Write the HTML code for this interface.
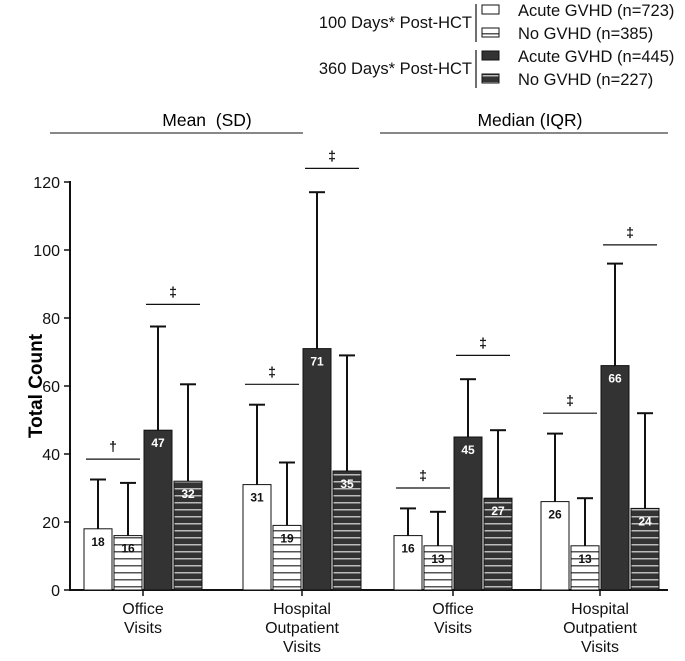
<!DOCTYPE html>
<html><head><meta charset="utf-8"><style>
body{margin:0;background:#fff;}
svg{display:block;font-family:"Liberation Sans",Arial,sans-serif;}
</style></head><body>
<svg id="c" width="685" height="661" viewBox="0 0 685 661">
<defs>
<pattern id="hw" width="8" height="7" patternUnits="userSpaceOnUse"><rect width="8" height="7" fill="#fff"/><rect y="5" width="8" height="1.5" fill="#555"/></pattern>
<pattern id="hd" width="8" height="7" patternUnits="userSpaceOnUse"><rect width="8" height="7" fill="#333"/><rect y="5" width="8" height="1.5" fill="#bbb"/></pattern>
</defs>
<g font-size="16.5" fill="#111">
<text x="472" y="28" text-anchor="end">100 Days* Post-HCT</text>
<text x="472" y="74" text-anchor="end">360 Days* Post-HCT</text>
<line x1="476" y1="4" x2="476" y2="42" stroke="#111" stroke-width="1.2"/>
<line x1="476" y1="50" x2="476" y2="88" stroke="#111" stroke-width="1.2"/>
<rect x="482" y="5" width="17" height="9" fill="#fff" stroke="#111"/>
<rect x="482" y="28" width="17" height="9" fill="url(#hw)" stroke="#111"/>
<rect x="482" y="51" width="17" height="9" fill="#333" stroke="#111"/>
<rect x="482" y="74" width="17" height="9" fill="url(#hd)" stroke="#111"/>
<text x="518" y="16">Acute GVHD (n=723)</text>
<text x="518" y="39">No GVHD (n=385)</text>
<text x="518" y="62">Acute GVHD (n=445)</text>
<text x="518" y="85">No GVHD (n=227)</text>
</g>
<text x="207" y="126" text-anchor="middle" font-size="17.5" style="white-space:pre">Mean  (SD)</text>
<line x1="50" y1="133" x2="303" y2="133" stroke="#111"/>
<text x="530" y="126" text-anchor="middle" font-size="17.5">Median (IQR)</text>
<line x1="380" y1="133" x2="668" y2="133" stroke="#111"/>
<text transform="translate(42,386) rotate(-90)" text-anchor="middle" font-size="19" font-weight="bold">Total Count</text>
<g id="plot"></g>
</svg>
<script>
const categories=["Office\nVisits","Hospital\nOutpatient\nVisits","Office\nVisits","Hospital\nOutpatient\nVisits"];
const barValues=[[18,16,47,32],[31,19,71,35],[16,13,45,27],[26,13,66,24]];
const errTops=[[32.5,31.5,77.5,60.5],[54.5,37.5,117,69],[24,23,62,47],[46,27,96,52]];
const labels=[["18","16","47","32"],["31","19","71","35"],["16","13","45","27"],["26","13","66","24"]];
const sigLeft=["†","‡","‡","‡"];
const sigLeftY=[38.5,60.5,30,52];
const sigRight=["‡","‡","‡","‡"];
const sigRightY=[84,124,69,101.5];
const yTicks=[0,20,40,60,80,100,120];
const NS="http://www.w3.org/2000/svg";
const g=document.getElementById('plot');
const y=v=>590-v*3.4;
const groupX=[84,243,394,541];
const bx=(gi,bi)=>groupX[gi]+bi*30;
const bw=28;
const fills=["#fff","url(#hw)","#333","url(#hd)"];
function el(t,a){const e=document.createElementNS(NS,t);for(const k in a)e.setAttribute(k,a[k]);g.appendChild(e);return e;}
let e=el('line',{x1:70,y1:y(120)-1,x2:70,y2:590,stroke:'#111','stroke-width':2});


e=el('line',{x1:69,y1:590,x2:668,y2:590,stroke:'#111','stroke-width':2});


yTicks.forEach(t=>{
 el('line',{x1:64,y1:y(t),x2:70,y2:y(t),stroke:'#111','stroke-width':1.5});
 const tx=el('text',{x:60,y:y(t)+6,'text-anchor':'end','font-size':16,fill:'#111'});tx.textContent=t;
 
 
});
categories.forEach((c,gi)=>{
 const cx=bx(gi,2)-1;
 el('line',{x1:cx,y1:590,x2:cx,y2:596,stroke:'#111','stroke-width':1.5});
 c.split('\n').forEach((ln,li)=>{const t=el('text',{x:cx,y:614+li*19,'text-anchor':'middle','font-size':16,fill:'#111'});t.textContent=ln;
  
  });
 barValues[gi].forEach((v,bi)=>{
  const x=bx(gi,bi);
  const ec=x+bw/2;
  el('line',{x1:ec,y1:y(errTops[gi][bi]),x2:ec,y2:y(v),stroke:'#111','stroke-width':2});
  el('line',{x1:ec-8,y1:y(errTops[gi][bi]),x2:ec+8,y2:y(errTops[gi][bi]),stroke:'#111','stroke-width':2});
  const r=el('rect',{x:x,y:y(v),width:bw,height:590-y(v),fill:fills[bi],stroke:'#111','stroke-width':1});
  
  
  const lt=el('text',{x:ec,y:y(v)+17,'text-anchor':'middle','font-size':12,'font-weight':'bold',fill:bi>=2?'#fff':'#111'});lt.textContent=labels[gi][bi];
  
  
 });
 [[sigLeft,sigLeftY,0],[sigRight,sigRightY,2]].forEach(([s,sy,b])=>{
  const x1=bx(gi,b)+2,x2=bx(gi,b+1)+bw-2,yy=y(sy[gi]);
  const l=el('line',{x1:x1,y1:yy,x2:x2,y2:yy,stroke:'#111','stroke-width':1.2});
  
  
  const t=el('text',{x:(x1+x2)/2,y:yy-8,'text-anchor':'middle','font-size':14,'font-weight':'bold',fill:'#111'});t.textContent=s[gi];
  
  
 });
});
</script>
</body></html>
